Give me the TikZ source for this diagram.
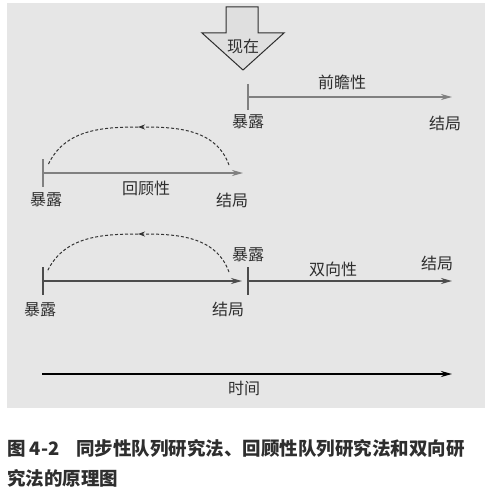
\documentclass[tikz,border=0pt]{standalone}
\usepackage{fontspec}
\setmainfont{Noto Sans CJK SC}
\usetikzlibrary{arrows.meta}
\definecolor{panel}{HTML}{E6E6E6}
\definecolor{ink}{HTML}{2E2E2E}
\tikzset{
	lbl/.style={text=ink,font=\fontsize{16}{16}\selectfont,inner sep=0pt},
	tl/.style={line width=1.6pt,-{Stealth[length=11pt,width=6pt]}},
	tick/.style={line width=1.2pt},
	back/.style={densely dashed,line width=1pt,black!80}
}
\begin{document}
\begin{tikzpicture}[x=1pt,y=-1pt]
	\useasboundingbox (0,0) rectangle (492,500);
	\fill[panel] (7,3) rectangle (485,408);
	% now
	\draw[ink,line width=1pt,fill=gray!25] (226,7) -- (258,7) -- (258,33) -- (284,33) -- (243,70) -- (202,33) -- (226,33) -- cycle;
	\node[lbl] (now) at (243,46) {现在};
	% prospective
	\coordinate (pe) at (248,97);
	\coordinate (po) at (452,97);
	\draw[tick,gray] ([yshift=13pt]pe) -- ([yshift=-13pt]pe);
	\draw[tl,gray] (pe) -- (po);
	\node[lbl] (plab) at (342,82) {前瞻性};
	\node[lbl] (pexp) at (248,122) {暴露};
	\node[lbl] (pout) at (445,123) {结局};
	% retrospective
	\coordinate (re) at (43,173);
	\coordinate (ro) at (243,173);
	\draw[tick,gray] ([yshift=14pt]re) -- ([yshift=-14pt]re);
	\draw[tl,gray] (re) -- (ro);
	\draw[back,-{Stealth[length=7pt,width=5pt]}] (229,165) to[out=110,in=0] (138,127);
	\draw[back] (138,127) to[out=180,in=65] (48,165);
	\node[lbl] (rlab) at (146,188) {回顾性};
	\node[lbl] (rexp) at (46,200) {暴露};
	\node[lbl] (rout) at (232,200) {结局};
	% ambidirectional
	\coordinate (ae) at (43,281);
	\coordinate (ao) at (242,281);
	\coordinate (be) at (248,281);
	\coordinate (bo) at (452,281);
	\draw[tick,black!70] ([yshift=14pt]ae) -- ([yshift=-14pt]ae);
	\draw[tl,black!70] (ae) -- (ao);
	\draw[tick,black!70] ([yshift=14pt]be) -- ([yshift=-14pt]be);
	\draw[tl,black!70] (be) -- (bo);
	\draw[back,-{Stealth[length=7pt,width=5pt]}] (229,272) to[out=110,in=0] (138,234);
	\draw[back] (138,234) to[out=180,in=65] (47,272);
	\node[lbl] (aexp) at (40,310) {暴露};
	\node[lbl] (aout) at (228,309) {结局};
	\node[lbl] (bexp) at (248,255) {暴露};
	\node[lbl] (alab) at (333,269) {双向性};
	\node[lbl] (bout) at (437,263) {结局};
	% time
	\coordinate (t0) at (42,374);
	\coordinate (t1) at (452,374);
	\draw[tl,black,line width=2pt] (t0) -- (t1);
	\node[lbl] (time) at (244,388) {时间};
	% caption
	\node[anchor=west,inner sep=0pt,font=\fontsize{18.5}{18.5}\selectfont\bfseries,text=ink] (cap1) at (7,448) {图 4-2\hspace{0.9em}同步性队列研究法、回顾性队列研究法和双向研};
	\node[anchor=west,inner sep=0pt,font=\fontsize{18.5}{18.5}\selectfont\bfseries,text=ink] (cap2) at (7,478) {究法的原理图};
\end{tikzpicture}
\end{document}
